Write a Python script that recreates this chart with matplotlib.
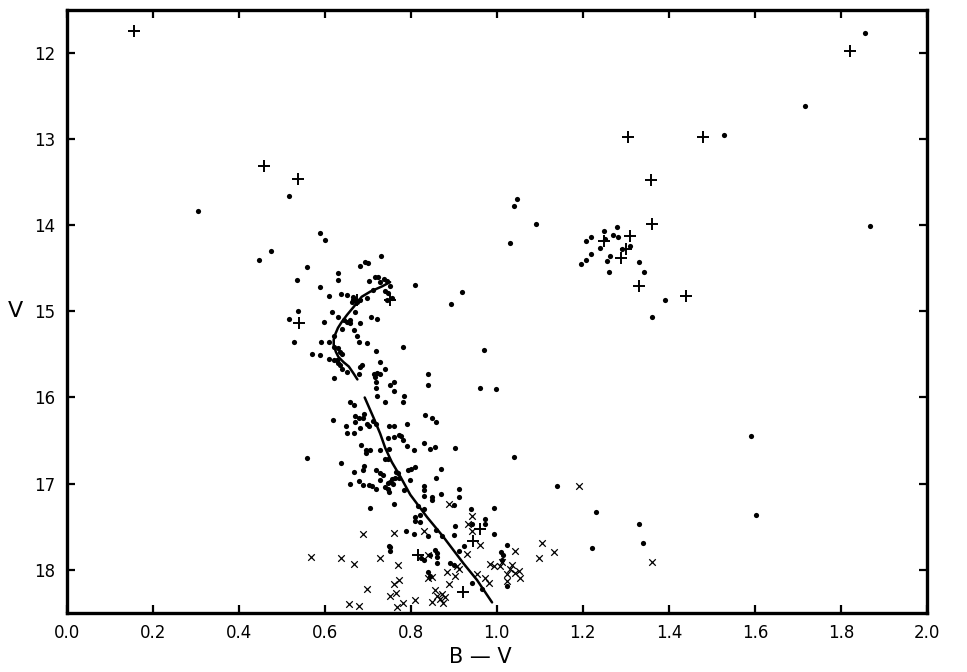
import matplotlib
matplotlib.use("Agg")
import matplotlib.pyplot as plt
import numpy as np

# ---- data (B-V, V) ----
dots_bv = [0.305, 0.517, 0.476, 0.448,
           0.731, 0.681, 0.693, 0.700, 0.559, 0.631, 0.631, 0.535, 0.590, 0.718, 0.725, 0.737,
           0.729, 0.745, 0.702, 0.810, 0.752, 0.712, 0.611, 0.638, 0.652, 0.666, 0.671, 0.676,
           0.683, 0.663, 0.698, 0.741, 0.748, 0.745, 0.756, 0.537, 0.518, 0.618, 0.671, 0.707,
           0.721, 0.599, 0.631, 0.644, 0.652, 0.659, 0.659, 0.683, 0.640, 0.669, 0.676, 0.529,
           0.621, 0.609, 0.592, 0.679, 0.698, 0.781, 0.621, 0.632, 0.570, 0.588, 0.636, 0.640,
           0.719, 0.609, 0.621, 0.628, 0.632, 0.636, 0.729, 0.741, 0.640, 0.652, 0.681, 0.686,
           0.679, 0.621, 0.714, 0.721, 0.729, 0.718, 0.719, 0.752, 0.760, 0.719, 0.760, 0.785,
           0.721,
           0.659, 0.669, 0.741, 0.782, 0.619, 0.671, 0.679, 0.689, 0.692, 0.671, 0.650, 0.652,
           0.669, 0.681, 0.698, 0.702, 0.712, 0.720, 0.750, 0.762, 0.791, 0.746, 0.760, 0.772,
           0.778, 0.782, 0.791, 0.808, 0.685, 0.696, 0.697, 0.706, 0.729, 0.749, 0.560, 0.638,
           0.741, 0.746, 0.692, 0.690, 0.669, 0.720, 0.729, 0.735, 0.766, 0.770, 0.793, 0.800,
           0.811, 0.764, 0.756, 0.752, 0.746, 0.759, 0.772, 0.799, 0.659, 0.679, 0.690, 0.702,
           0.710, 0.720, 0.729, 0.741, 0.746, 0.750, 0.785, 0.706, 0.762, 0.790, 0.808, 0.750,
           0.751, 0.751,
           0.832, 0.849, 0.858, 0.830, 0.845, 0.857, 0.902, 1.039, 0.871, 0.859, 0.831, 0.831,
           0.831, 0.849, 0.849, 0.871, 0.913, 0.911, 0.830, 0.900, 0.818, 0.941, 0.993, 0.810,
           0.810, 0.822, 0.822, 0.942, 0.972, 0.973, 0.841, 0.859, 0.872, 0.900, 0.903, 0.993,
           0.923, 0.911, 1.024, 1.140, 0.857, 0.861, 0.861, 0.861, 0.830, 0.824, 0.845, 0.892,
           0.900, 1.010, 1.014, 1.012, 0.841, 0.844, 0.942, 0.965, 1.024,
           1.231, 1.331, 1.339, 1.221,
           1.279, 1.248, 1.270, 1.281, 1.207, 1.219, 1.252, 1.239, 1.290, 1.309, 1.220, 1.208,
           1.196, 1.262, 1.255, 1.331, 1.341, 1.260, 1.392, 1.360,
           1.047, 1.039, 1.090, 1.030, 0.590, 0.601,
           0.919, 0.893, 0.971, 0.841, 0.839, 0.962, 0.999,
           1.529, 1.716, 1.856, 1.867, 1.590, 1.602]
dots_v = [13.83, 13.66, 14.30, 14.40,
          14.36, 14.47, 14.43, 14.44, 14.48, 14.55, 14.64, 14.63, 14.72, 14.60, 14.60, 14.62,
          14.66, 14.65, 14.65, 14.69, 14.70, 14.75, 14.82, 14.80, 14.81, 14.83, 14.87, 14.89,
          14.87, 14.89, 14.85, 14.76, 14.79, 14.87, 14.85, 15.00, 15.09, 15.01, 15.01, 15.06,
          15.09, 15.12, 15.06, 15.10, 15.12, 15.10, 15.13, 15.13, 15.21, 15.22, 15.28, 15.35,
          15.29, 15.35, 15.36, 15.35, 15.37, 15.41, 15.41, 15.43, 15.49, 15.51, 15.47, 15.49,
          15.46, 15.55, 15.56, 15.57, 15.60, 15.62, 15.59, 15.67, 15.67, 15.70, 15.65, 15.62,
          15.73, 15.77, 15.73, 15.71, 15.73, 15.76, 15.82, 15.85, 15.82, 15.89, 15.93, 15.98,
          15.98,
          16.05, 16.09, 16.05, 16.05, 16.26, 16.21, 16.24, 16.24, 16.19, 16.28, 16.33, 16.41,
          16.41, 16.35, 16.31, 16.33, 16.27, 16.31, 16.33, 16.33, 16.31, 16.47, 16.46, 16.44,
          16.45, 16.49, 16.56, 16.61, 16.55, 16.61, 16.64, 16.61, 16.61, 16.60, 16.70, 16.76,
          16.71, 16.72, 16.79, 16.84, 16.86, 16.84, 16.88, 16.90, 16.86, 16.88, 16.84, 16.83,
          16.81, 16.93, 16.95, 16.98, 16.99, 17.00, 16.94, 16.96, 17.00, 16.97, 17.02, 17.02,
          17.03, 17.06, 16.96, 17.04, 17.06, 17.10, 17.08, 17.28, 17.24, 17.55, 17.59, 17.72,
          17.74, 17.78,
          16.20, 16.24, 16.29, 16.53, 16.60, 16.57, 16.59, 16.69, 16.83, 16.94, 17.03, 17.07,
          17.14, 17.15, 17.19, 17.12, 17.06, 17.15, 17.29, 17.25, 17.26, 17.30, 17.28, 17.39,
          17.43, 17.37, 17.45, 17.47, 17.41, 17.47, 17.61, 17.54, 17.61, 17.60, 17.49, 17.58,
          17.73, 17.78, 17.71, 17.03, 17.77, 17.81, 17.85, 17.92, 17.89, 17.87, 17.83, 17.92,
          17.94, 17.79, 17.83, 17.89, 18.03, 18.07, 18.16, 18.23, 18.19,
          17.33, 17.47, 17.69, 17.75,
          14.02, 14.07, 14.11, 14.13, 14.18, 14.14, 14.16, 14.26, 14.27, 14.24, 14.33, 14.40,
          14.45, 14.36, 14.41, 14.43, 14.54, 14.54, 14.87, 15.06,
          13.70, 13.78, 13.98, 14.20, 14.09, 14.17,
          14.77, 14.91, 15.45, 15.73, 15.85, 15.89, 15.90,
          12.95, 12.61, 11.77, 14.01, 16.45, 17.36]

plus_bv = [0.157, 0.458, 0.538, 0.540, 0.676, 0.751,
           0.818, 0.960, 0.945, 0.921,
           1.306, 1.358, 1.361, 1.309, 1.248, 1.300, 1.289, 1.330, 1.440,
           1.479, 1.820]
plus_v = [11.74, 13.31, 13.46, 15.13, 14.87, 14.87,
          17.83, 17.53, 17.67, 18.26,
          12.98, 13.47, 13.99, 14.12, 14.18, 14.28, 14.38, 14.70, 14.82,
          12.97, 11.97]

cross_bv = [0.689, 0.760, 0.569, 0.638, 0.669, 0.729, 0.770, 0.760, 0.773, 0.698, 0.752,
            0.766, 0.657, 0.679, 0.768, 0.783,
            0.890, 0.830, 0.942, 0.932, 0.942, 0.962, 0.841, 0.931, 0.884, 0.902, 0.907,
            0.911, 0.954, 0.973, 0.983, 0.890, 0.985, 0.993, 1.007, 1.012, 1.035, 1.031,
            1.043, 1.051, 1.055, 1.024, 1.024, 1.043, 1.105, 1.097, 1.134, 0.841, 0.849,
            0.810, 0.849, 0.857, 0.861, 0.869, 0.876, 0.880, 0.872,
            1.190, 1.361]
cross_v = [17.59, 17.57, 17.85, 17.87, 17.93, 17.86, 17.94, 18.17, 18.12, 18.23, 18.31,
           18.27, 18.40, 18.42, 18.43, 18.39,
           17.24, 17.55, 17.38, 17.47, 17.55, 17.71, 17.83, 17.82, 18.03, 18.07, 17.96,
           17.99, 18.05, 18.10, 18.16, 18.17, 17.93, 17.96, 17.96, 17.91, 17.94, 17.99,
           18.04, 18.01, 18.10, 18.05, 18.13, 17.78, 17.69, 17.87, 17.79, 18.10, 18.08,
           18.35, 18.38, 18.24, 18.30, 18.34, 18.39, 18.32, 18.28,
           17.03, 17.91]

# fiducial sequences
upper_bv = [0.752, 0.733, 0.706, 0.686, 0.667, 0.652, 0.640, 0.631, 0.625, 0.621, 0.621,
            0.626, 0.632, 0.644, 0.656, 0.667, 0.676]
upper_v = [14.66, 14.71, 14.77, 14.83, 14.95, 15.04, 15.12, 15.19, 15.26, 15.33, 15.39,
           15.47, 15.53, 15.59, 15.64, 15.72, 15.79]
lower_bv = [0.693, 0.714, 0.729, 0.741, 0.756, 0.776, 0.799, 0.838, 0.876, 0.923, 0.954, 0.989]
lower_v = [16.00, 16.24, 16.42, 16.59, 16.75, 16.92, 17.13, 17.39, 17.62, 17.93, 18.12, 18.38]

xticks = [0.0, 0.2, 0.4, 0.6, 0.8, 1.0, 1.2, 1.4, 1.6, 1.8, 2.0]
yticks = [12, 13, 14, 15, 16, 17, 18]

fig = plt.figure(figsize=(9.67, 6.72), dpi=100)
ax = fig.add_axes([0.0688, 0.0882, 0.8899, 0.8968])

ax.plot(upper_bv, upper_v, color='black', lw=1.8, solid_capstyle='round')
ax.plot(lower_bv, lower_v, color='black', lw=1.8, solid_capstyle='round')
ax.scatter(dots_bv, dots_v, s=14, color='black', marker='o', linewidths=0)
ax.scatter(plus_bv, plus_v, s=70, color='black', marker='+', linewidths=1.4)
ax.scatter(cross_bv, cross_v, s=22, color='black', marker='x', linewidths=0.9)

ax.set_xlim(0.0, 2.0)
ax.set_ylim(18.5, 11.5)
ax.set_xticks(xticks)
ax.set_xticklabels([f"{t:.1f}" for t in xticks])
ax.set_yticks(yticks)
ax.set_yticklabels([str(t) for t in yticks])
ax.tick_params(direction='in', length=6, width=1.6, top=True, right=True,
               labelsize=12, pad=8)
for s in ax.spines.values():
    s.set_linewidth(2.4)

fig.text(0.497, 0.022, "B — V", fontsize=15, ha='center', va='center')
fig.text(0.016, 0.537, "V", fontsize=16, ha='center', va='center')

fig.savefig("out.png", dpi=100)
